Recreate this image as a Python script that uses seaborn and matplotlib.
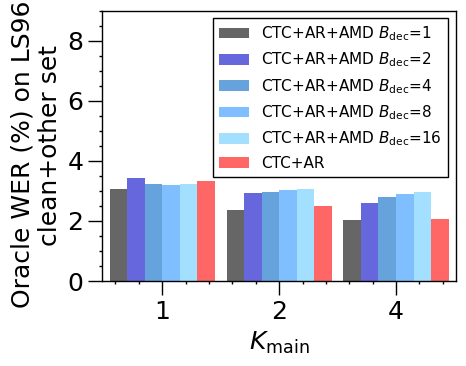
import pandas as pd
import matplotlib
matplotlib.use("Agg")
import matplotlib.pyplot as plt
import seaborn as sns
from matplotlib.ticker import AutoMinorLocator

# Data

k_main = ["1", "2", "4"]

configs = [
    r"CTC+AR+AMD $B_{\rm dec}$=1",
    r"CTC+AR+AMD $B_{\rm dec}$=2",
    r"CTC+AR+AMD $B_{\rm dec}$=4",
    r"CTC+AR+AMD $B_{\rm dec}$=8",
    r"CTC+AR+AMD $B_{\rm dec}$=16",
    "CTC+AR",
]

wer_bdec1 = [3.06, 2.36, 2.03]
wer_bdec2 = [3.42, 2.92, 2.59]
wer_bdec4 = [3.22, 2.95, 2.79]
wer_bdec8 = [3.19, 3.02, 2.89]
wer_bdec16 = [3.22, 3.05, 2.96]
wer_ctc_ar = [3.32, 2.49, 2.06]

colors = ["#666666", "#6666dd", "#66a3dd", "#80bfff", "#a3dfff", "#ff6666"]

all_values = [wer_bdec1, wer_bdec2, wer_bdec4, wer_bdec8, wer_bdec16, wer_ctc_ar]

rows = []
for cfg, vals in zip(configs, all_values):
    for k, v in zip(k_main, vals):
        rows.append({"K": k, "config": cfg, "wer": v})
df = pd.DataFrame(rows)

sns.set_style("ticks")
plt.rcParams["font.family"] = ["DejaVu Sans"]
plt.rcParams["mathtext.fontset"] = "dejavusans"
plt.rcParams["text.color"] = "black"
plt.rcParams["axes.labelcolor"] = "black"

fig = plt.figure(figsize=(4.66, 3.66), dpi=100)
ax = fig.add_axes([0.2195, 0.2322, 0.7590, 0.7386])

sns.barplot(
    data=df, x="K", y="wer", hue="config",
    order=k_main, hue_order=configs, palette=colors,
    width=0.9, saturation=1, linewidth=0, ax=ax,
)

ax.set_xlim(-0.513, 2.513)
ax.set_ylim(0, 9)
ax.set_yticks([0, 2, 4, 6, 8])
ax.yaxis.set_minor_locator(AutoMinorLocator(4))
ax.xaxis.set_minor_locator(AutoMinorLocator(5))

ax.tick_params(which="major", direction="out", length=10, width=1,
               labelsize=18, color="black", labelcolor="black")
ax.tick_params(which="minor", direction="out", length=2.5, width=1,
               color="black")

for sp in ax.spines.values():
    sp.set_visible(True)
    sp.set_color("black")
    sp.set_linewidth(1)

ax.set_xlabel(r"$K_{\rm main}$", fontsize=18, color="black")
ax.set_ylabel("Oracle WER (%) on LS960\nclean+other set", fontsize=18,
              color="black")

handles, labels = ax.get_legend_handles_labels()
leg = ax.legend(handles, labels, loc="upper right", fontsize=11,
                frameon=True, fancybox=False, framealpha=1,
                edgecolor="black")
leg.get_frame().set_linewidth(1)
for t in leg.get_texts():
    t.set_color("black")

fig.savefig("out.png", dpi=100)
